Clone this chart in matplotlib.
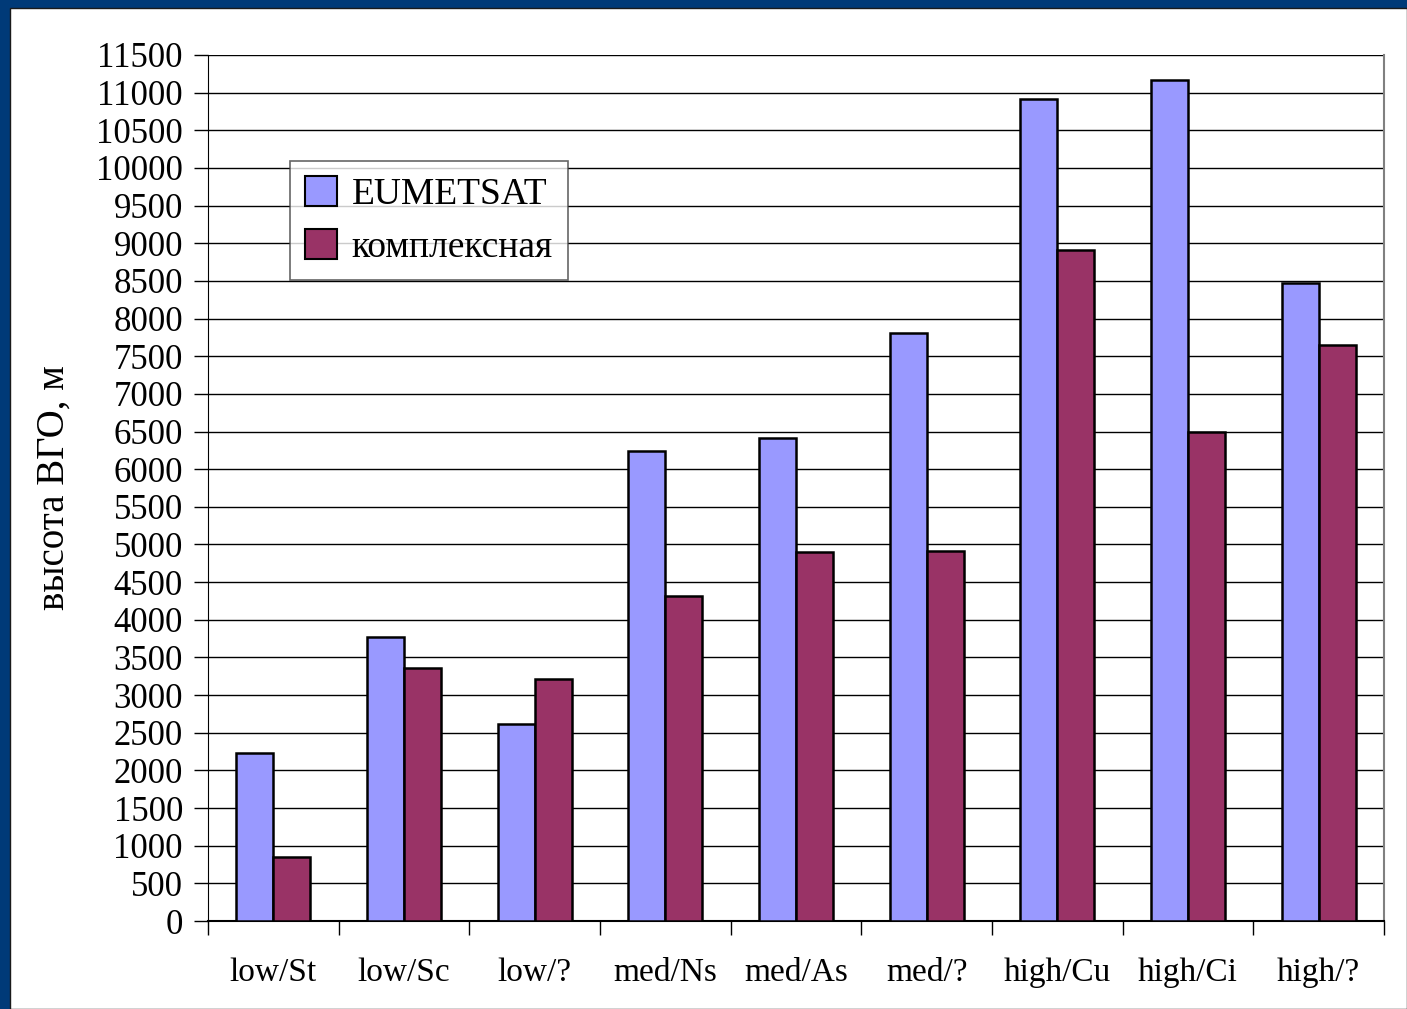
import matplotlib
matplotlib.use("Agg")
import matplotlib.pyplot as plt
from matplotlib.patches import Rectangle, Patch
import numpy as np

categories = ["low/St", "low/Sc", "low/?", "med/Ns", "med/As", "med/?",
              "high/Cu", "high/Ci", "high/?"]
eumetsat = [2230, 3770, 2610, 6240, 6410, 7810, 10920, 11170, 8470]
kompleks = [850, 3360, 3210, 4320, 4900, 4920, 8910, 6490, 7650]
series_names = ["EUMETSAT", "комплексная"]
yticks = list(range(0, 11501, 500))

plt.rcParams['font.family'] = ['Liberation Serif', 'DejaVu Serif']

fig = plt.figure(figsize=(14.07, 10.09), dpi=100)
fig.patch.set_facecolor('#003A78')
bg = Rectangle((10/1407, 0), 1 - 10/1407, (1009 - 8)/1009,
               transform=fig.transFigure, facecolor='white',
               edgecolor='#1a1a1a', linewidth=1.0, zorder=-10)
fig.add_artist(bg)

ax = fig.add_axes([208/1407, 88/1009, 1176/1407, 866/1009])
ax.set_facecolor('white')
ax.set_zorder(1)

x = np.arange(len(categories))
w = 0.283
ax.bar(x - w/2, eumetsat, width=w, color='#9999FF', edgecolor='black',
       linewidth=1.8, label=series_names[0], zorder=3)
ax.bar(x + w/2, kompleks, width=w, color='#993366', edgecolor='black',
       linewidth=1.8, label=series_names[1], zorder=3)

ax.set_xlim(-0.5, len(categories) - 0.5)
ax.set_ylim(0, 11500)
ax.set_yticks(yticks)
ax.set_yticklabels([str(v) for v in yticks], fontsize=25)
ax.tick_params(axis='y', length=10, width=1, direction='out', pad=8)

ax.set_xticks(x)
ax.set_xticklabels(categories, fontsize=24)
ax.set_xticks(np.arange(-0.5, len(categories), 1.0), minor=True)
ax.tick_params(axis='x', which='major', length=0, pad=26)
ax.tick_params(axis='x', which='minor', length=10, width=1, direction='out')

ax.yaxis.grid(True, color='black', linewidth=1.0, zorder=1)
ax.set_axisbelow(True)

ax.spines['top'].set_visible(False)
ax.spines['right'].set_color('#808080')
ax.spines['right'].set_linewidth(1.5)
ax.spines['left'].set_color('black')
ax.spines['bottom'].set_color('black')
ax.spines['bottom'].set_linewidth(1.5)

ax.set_ylabel("высота ВГО, м", fontsize=28, labelpad=17)

handles = [Patch(facecolor='#9999FF', edgecolor='black', linewidth=1.5),
           Patch(facecolor='#993366', edgecolor='black', linewidth=1.5)]
leg = ax.legend(handles, series_names, loc='upper left',
                bbox_to_anchor=((290 - 208)/1176, (921 - 161)/866),
                borderaxespad=0, fontsize=27, frameon=True, fancybox=False,
                edgecolor='#404040', handlelength=0.85, handleheight=0.85,
                handletextpad=0.4, labelspacing=0.45, borderpad=0.4)
leg.get_frame().set_linewidth(1.2)
leg.set_zorder(5)

fig.savefig("out.png", dpi=100, facecolor=fig.get_facecolor())
